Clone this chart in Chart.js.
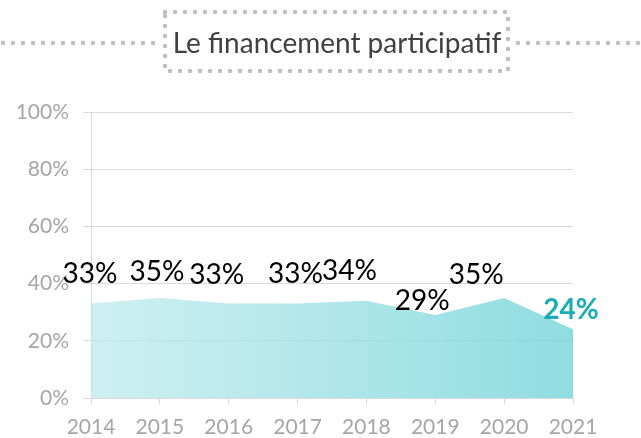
<!DOCTYPE html>
<html>
<head>
<meta charset="utf-8">
<script src="https://cdn.jsdelivr.net/npm/chart.js@4/dist/chart.umd.min.js"></script>
<style>
  html,body{margin:0;padding:0;background:#fff;}
  #wrap{width:641px;height:438px;position:relative;}
</style>
</head>
<body>
<div id="wrap"><canvas id="myChart" width="641" height="438"></canvas></div>
<script>
// data
const years=['2014','2015','2016','2017','2018','2019','2020','2021'];
const values=[0.33,0.35,0.33,0.33,0.34,0.29,0.35,0.24];
const yTicks=[0,0.2,0.4,0.6,0.8,1];
const title="Le financement participatif";

// label nudges (dx, dy px from point) to mimic the original placement
const labelShift=[[-1,-30],[-3,-26],[-12,-29],[-2,-30],[-17,-30],[-13,-14],[-28,-23],[-2,-19]];

const FONT="Lato, 'Open Sans', sans-serif";

const titleBox={
  id:'titleBox',
  beforeDraw(chart){
    const c=chart.ctx;
    c.save();
    c.strokeStyle='#bfbfbf';
    c.lineWidth=4.5;
    c.lineCap='round';
    c.setLineDash([0,10]);
    // box
    c.beginPath();
    c.moveTo(165,12);c.lineTo(508,12);c.lineTo(508,71);c.lineTo(165,71);c.closePath();
    c.stroke();
    // side lines
    c.beginPath();
    c.moveTo(3,43);c.lineTo(160,43);
    c.moveTo(518,43);c.lineTo(640,43);
    c.stroke();
    c.setLineDash([]);
    c.fillStyle='#404040';
    c.font="28px "+FONT;
    c.textAlign='center';
    c.textBaseline='middle';
    c.fillText(title,337,44);
    c.restore();
  }
};

const dataLabels={
  id:'dataLabels',
  afterDatasetsDraw(chart){
    const c=chart.ctx;
    const meta=chart.getDatasetMeta(0);
    c.save();
    c.textAlign='center';
    c.textBaseline='middle';
    meta.data.forEach(function(pt,i){
      const last=i==values.length-1;
      c.font=(last?'bold ':'')+"28px "+FONT;
      c.fillStyle=last?'#1aacb4':'#000';
      c.fillText(Math.round(values[i]*100)+'%',pt.x+labelShift[i][0],pt.y+labelShift[i][1]);
    });
    c.restore();
  }
};

const ctx=document.getElementById('myChart').getContext('2d');
const chart=new Chart(ctx,{
  type:'line',
  data:{
    labels:years,
    datasets:[{
      data:values,
      fill:'origin',
      borderWidth:0,
      pointRadius:0,
      tension:0,
      backgroundColor:function(context){
        const a=context.chart.chartArea;
        if(!a) return 'rgba(143,220,225,0.85)';
        const g=context.chart.ctx.createLinearGradient(a.left,0,a.right,0);
        g.addColorStop(0,'rgba(190,234,237,0.75)');
        g.addColorStop(1,'rgba(115,212,218,0.8)');
        return g;
      }
    }]
  },
  options:{
    responsive:false,
    animation:false,
    layout:{padding:{top:112,right:68,left:0,bottom:0}},
    plugins:{legend:{display:false},tooltip:{enabled:false}},
    scales:{
      x:{
        offset:false,
        afterFit(scale){scale.height=40;},
        grid:{display:true,drawOnChartArea:false,color:'#d9d9d9',tickLength:6,tickWidth:1},
        border:{color:'#d9d9d9'},
        ticks:{color:'#a6a6a6',font:{size:21,family:FONT},padding:11,maxRotation:0}
      },
      y:{
        min:0,max:1,
        afterBuildTicks(scale){scale.ticks=yTicks.map(v=>({value:v}));},
        afterFit(scale){scale.width=91;},
        grid:{color:'#d9d9d9',tickLength:8},
        border:{color:'#d9d9d9'},
        ticks:{color:'#a6a6a6',font:{size:21,family:FONT},padding:14,
          callback:v=>Math.round(v*100)+'%'}
      }
    }
  },
  plugins:[titleBox,dataLabels]
});
</script>
</body>
</html>
